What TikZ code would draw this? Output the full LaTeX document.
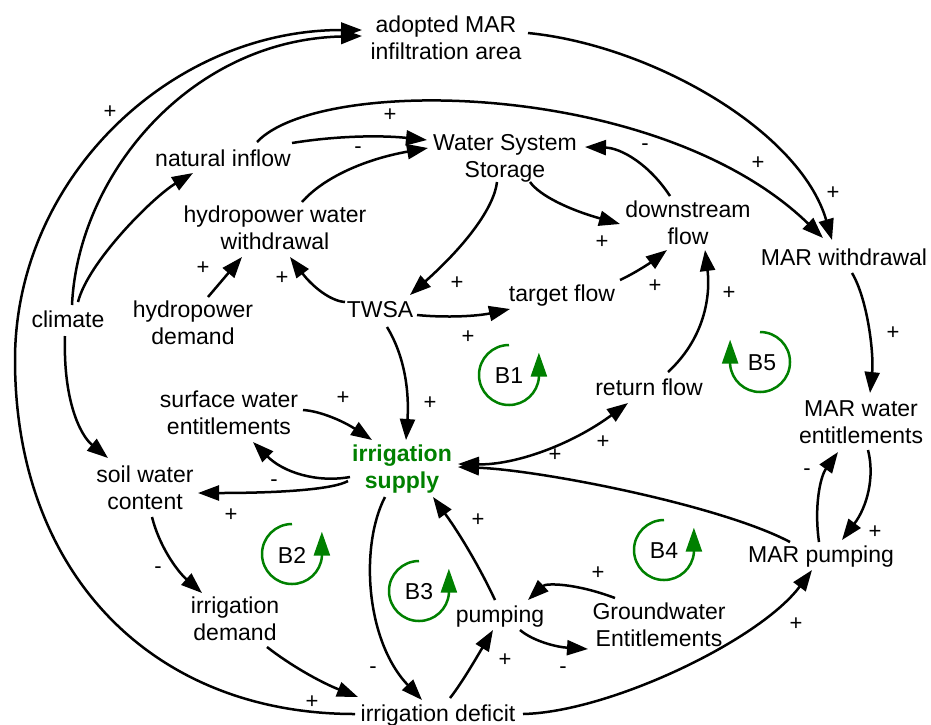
\documentclass[tikz,border=0pt]{standalone}
\usepackage{fontspec}
\setmainfont{Liberation Sans}
\usetikzlibrary{arrows.meta}
\definecolor{loopgreen}{RGB}{0,128,0}
\tikzset{
  var/.style={align=center, inner sep=0pt, font=\fontsize{23}{27}\selectfont},
  keyvar/.style={align=center, inner sep=0pt, text=loopgreen, font=\fontsize{23}{27}\selectfont\bfseries},
  link/.style={line width=2.5pt, -{Triangle[length=21pt,width=15pt]}},
  twoway/.style={line width=2.5pt, {Triangle[length=21pt,width=15pt]}-{Triangle[length=21pt,width=15pt]}},
  pol/.style={inner sep=0pt, font=\fontsize{22}{22}\selectfont},
  loopline/.style={draw=loopgreen, line width=2.5pt, -{Triangle[length=24pt,width=16pt]}},
  looplabel/.style={inner sep=0pt, font=\fontsize{23}{27}\selectfont}
}
\begin{document}
\begin{tikzpicture}[x=1pt, y=-1pt]
\useasboundingbox (0,0) rectangle (931,724);

% variables
\node[var] (adopt)   at (446,38)  {adopted MAR\\infiltration area};
\node[var] (wss)     at (505,158) {Water System\\Storage};
\node[var] (ni)      at (223,158) {natural inflow};
\node[var] (hww)     at (275,228) {hydropower water\\withdrawal};
\node[var] (dsf)     at (688,223) {downstream\\flow};
\node[var] (marw)    at (844,257) {MAR withdrawal};
\node[var] (climate) at (68,319)  {climate};
\node[var] (hd)      at (193,323) {hydropower\\demand};
\node[var] (twsa)    at (380,310) {TWSA};
\node[var] (tf)      at (562,296) {target flow};
\node[var] (rf)      at (649,387) {return flow};
\node[var] (swe)     at (229,413) {surface water\\entitlements};
\node[keyvar] (is)   at (402,469) {irrigation\\supply};
\node[var] (swc)     at (145,488) {soil water\\content};
\node[var] (id)      at (235,619) {irrigation\\demand};
\node[var] (pump)    at (500,617) {pumping};
\node[var] (gwe)     at (659,625) {Groundwater\\Entitlements};
\node[var] (marp)    at (821,557) {MAR pumping};
\node[var] (marwe)   at (861,422) {MAR water\\entitlements};
\node[var] (idef)    at (438,716) {irrigation deficit};

% causal links
\draw[link] ([shift={(-83,-2)}]idef.center) .. controls (151,714) and (15,572) .. (15,360)
            .. controls (15,178) and (171,30) .. ([shift={(-84,-8)}]adopt.center);
\draw[link] ([shift={(4,-14)}]climate.center) .. controls (78,175) and (190,40) .. ([shift={(-84,-2)}]adopt.center);
\draw[link] ([shift={(10,-17)}]climate.center) .. controls (88,262) and (153,197) .. ([shift={(-30,15)}]ni.center);
\draw[link] ([shift={(-3,17)}]climate.center) .. controls (63,400) and (80,435) .. ([shift={(-37,-30)}]swc.center);
\draw[link] ([shift={(69,-15)}]ni.center) .. controls (335,136) and (379,135) .. ([shift={(-78,-18)}]wss.center);
\draw[link] ([shift={(34,-16)}]ni.center) .. controls (320,75) and (660,80) .. ([shift={(-21,-19)}]marw.center);
\draw[link] ([shift={(27,-26)}]hww.center) .. controls (324,177) and (366,159) .. ([shift={(-77,-10)}]wss.center);
\draw[link] ([shift={(25,24)}]wss.center) .. controls (540,196) and (570,210) .. ([shift={(-68,1)}]dsf.center);
\draw[link] ([shift={(-18,-27)}]dsf.center) .. controls (649,164) and (621,148) .. ([shift={(80,-11)}]wss.center);
\draw[link] ([shift={(-8,24)}]wss.center) .. controls (494,208) and (465,246) .. ([shift={(30,-15)}]twsa.center);
\draw[link] ([shift={(-35,-8)}]twsa.center) .. controls (330,301) and (312,286) .. ([shift={(15,29)}]hww.center);
\draw[link] ([shift={(15,-26)}]hd.center) -- ([shift={(-33,29)}]hww.center);
\draw[link] ([shift={(37,5)}]twsa.center) .. controls (447,318) and (478,316) .. ([shift={(-52,13)}]tf.center);
\draw[link] ([shift={(58,-16)}]tf.center) .. controls (635,273) and (650,263) .. ([shift={(-21,27)}]dsf.center);
\draw[link] ([shift={(19,-15)}]rf.center) .. controls (708,335) and (710,290) .. ([shift={(17,27)}]dsf.center);
\draw[link] ([shift={(7,17)}]twsa.center) .. controls (407,360) and (409,398) .. ([shift={(4,-29)}]is.center);
\draw[link] ([shift={(74,-3)}]swe.center) .. controls (320,411) and (343,421) .. ([shift={(-30,-29)}]is.center);
\draw[link] ([shift={(-52,8)}]is.center) .. controls (316,483) and (283,472) .. ([shift={(24,29)}]swe.center);
\draw[link] ([shift={(-54,12)}]is.center) .. controls (334,489) and (284,493) .. ([shift={(53,5)}]swc.center);
\draw[link] ([shift={(7,29)}]swc.center) .. controls (159,545) and (176,570) .. ([shift={(-33,-26)}]id.center);
\draw[link] ([shift={(32,28)}]id.center) .. controls (290,665) and (320,682) .. ([shift={(-80,-19)}]idef.center);
\draw[link] ([shift={(-17,28)}]is.center) .. controls (360,545) and (365,640) .. ([shift={(-16,-16)}]idef.center);
\draw[link] ([shift={(12,-18)}]idef.center) .. controls (462,683) and (478,655) .. ([shift={(-7,13)}]pump.center);
\draw[link] ([shift={(-5,-17)}]pump.center) .. controls (482,572) and (462,537) .. ([shift={(31,28)}]is.center);
\draw[link] ([shift={(-44,-27)}]gwe.center) .. controls (575,583) and (546,583) .. ([shift={(28,-17)}]pump.center);
\draw[link] ([shift={(20,13)}]pump.center) .. controls (533,641) and (556,647) .. ([shift={(-71,24)}]gwe.center);
\draw[link] ([shift={(85,-2)}]idef.center) .. controls (610,712) and (760,640) .. ([shift={(-9,13)}]marp.center);
\draw[link] ([shift={(-31,-15)}]marp.center) .. controls (720,505) and (540,470) .. ([shift={(56,-2)}]is.center);
\draw[twoway] ([shift={(56,-5)}]is.center) .. controls (515,465) and (571,445) .. ([shift={(-21,16)}]rf.center);
\draw[link] ([shift={(8,16)}]marw.center) .. controls (868,300) and (874,355) .. ([shift={(9,-29)}]marwe.center);
\draw[link] ([shift={(7,28)}]marwe.center) .. controls (875,477) and (867,507) .. ([shift={(21,-17)}]marp.center);
\draw[link] ([shift={(-2,-15)}]marp.center) .. controls (814,507) and (820,477) .. ([shift={(-23,30)}]marwe.center);
\draw[link] ([shift={(82,-5)}]adopt.center) .. controls (650,45) and (800,130) .. ([shift={(-12,-17)}]marw.center);

% link polarities
\node[pol] (s1)  at (110,112) {+};
\node[pol] (s2)  at (390,115) {+};
\node[pol] (s3)  at (358,150) {-};
\node[pol] (s4)  at (758,163) {+};
\node[pol] (s5)  at (833,193) {+};
\node[pol] (s6)  at (645,147) {-};
\node[pol] (s7)  at (602,242) {+};
\node[pol] (s8)  at (203,268) {+};
\node[pol] (s9)  at (282,278) {+};
\node[pol] (s10) at (457,283) {+};
\node[pol] (s11) at (468,337) {+};
\node[pol] (s12) at (655,286) {+};
\node[pol] (s13) at (729,293) {+};
\node[pol] (s14) at (430,403) {+};
\node[pol] (s15) at (343,398) {+};
\node[pol] (s16) at (274,483) {-};
\node[pol] (s17) at (231,515) {+};
\node[pol] (s18) at (158,570) {-};
\node[pol] (s19) at (312,702) {+};
\node[pol] (s20) at (373,670) {-};
\node[pol] (s21) at (505,660) {+};
\node[pol] (s22) at (478,520) {+};
\node[pol] (s23) at (598,573) {+};
\node[pol] (s24) at (563,670) {-};
\node[pol] (s25) at (796,624) {+};
\node[pol] (s26) at (555,455) {+};
\node[pol] (s27) at (603,442) {+};
\node[pol] (s28) at (893,333) {+};
\node[pol] (s29) at (875,532) {+};
\node[pol] (s30) at (807,472) {-};

% balancing loop markers
\draw[loopline] (509,345) arc[start angle=270, end angle=5, radius=30] -- ++(0,-25);
\node[looplabel] (b1) at (509,376) {B1};
\draw[loopline] (292,524) arc[start angle=270, end angle=5, radius=30] -- ++(0,-25);
\node[looplabel] (b2) at (292,555) {B2};
\draw[loopline] (419,561) arc[start angle=270, end angle=5, radius=30] -- ++(0,-25);
\node[looplabel] (b3) at (419,592) {B3};
\draw[loopline] (664,520) arc[start angle=270, end angle=5, radius=30] -- ++(0,-25);
\node[looplabel] (b4) at (664,551) {B4};
\draw[loopline] (760,332) arc[start angle=270, end angle=535, radius=30] -- ++(0,-25);
\node[looplabel] (b5) at (762,363) {B5};
\end{tikzpicture}
\end{document}
